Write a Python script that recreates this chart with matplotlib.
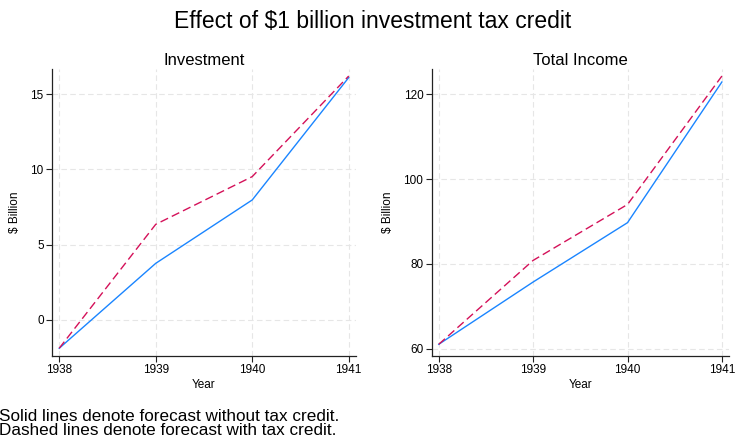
import matplotlib.pyplot as plt

plt.rcParams["font.family"] = ["Liberation Sans", "DejaVu Sans"]

years = [1938, 1939, 1940, 1941]

# Investment, $ billion
inv_base = [-1.88, 3.76, 7.97, 16.10]
inv_credit = [-1.88, 6.35, 9.52, 16.20]

# Total income, $ billion
inc_base = [61.0, 75.7, 89.7, 122.9]
inc_credit = [61.0, 80.8, 94.0, 124.3]

inv_ticks = [0, 5, 10, 15]
inc_ticks = [60, 80, 100, 120]

blue = "#1a85ff"
red = "#d41159"


def draw_panel(ax, base, credit, title, yticks, ylim):
    ax.plot(years, base, color=blue, lw=1.0)
    ax.plot(years, credit, color=red, lw=1.0, dashes=(6, 3))
    ax.set_title(title, fontsize=12, pad=3)
    ax.set_xlim(1937.925, 1941.075)
    ax.set_ylim(*ylim)
    ax.set_xticks(years)
    ax.set_yticks(yticks)
    ax.set_xlabel("Year", fontsize=8.5, labelpad=2)
    ax.set_ylabel("$ Billion", fontsize=8.5, labelpad=7)
    ax.grid(True, color="#e6e6e6", ls=(0, (5, 3)), lw=0.8)
    ax.set_axisbelow(True)
    for side in ["top", "right"]:
        ax.spines[side].set_visible(False)
    for side in ["left", "bottom"]:
        ax.spines[side].set_color("#222222")
        ax.spines[side].set_linewidth(0.9)
    ax.tick_params(labelsize=8.5, length=4, width=0.8, color="#222222", pad=2)


fig = plt.figure(figsize=(7.35, 4.4), dpi=100)
ax1 = fig.add_axes([0.0707, 0.191, 0.4136, 0.6516])
ax2 = fig.add_axes([0.5873, 0.191, 0.4045, 0.6516])

draw_panel(ax1, inv_base, inv_credit, "Investment", inv_ticks, (-2.39, 16.65))
draw_panel(ax2, inc_base, inc_credit, "Total Income", inc_ticks, (58.25, 125.9))

fig.suptitle("Effect of $1 billion investment tax credit", fontsize=16.5,
             x=0.507, y=0.952, va="center")
fig.text(-0.002, 0.037, "Solid lines denote forecast without tax credit.\n"
         "Dashed lines denote forecast with tax credit.",
         fontsize=12.3, ha="left", va="center", linespacing=0.93)

fig.savefig("out.png", dpi=100, facecolor="white")
